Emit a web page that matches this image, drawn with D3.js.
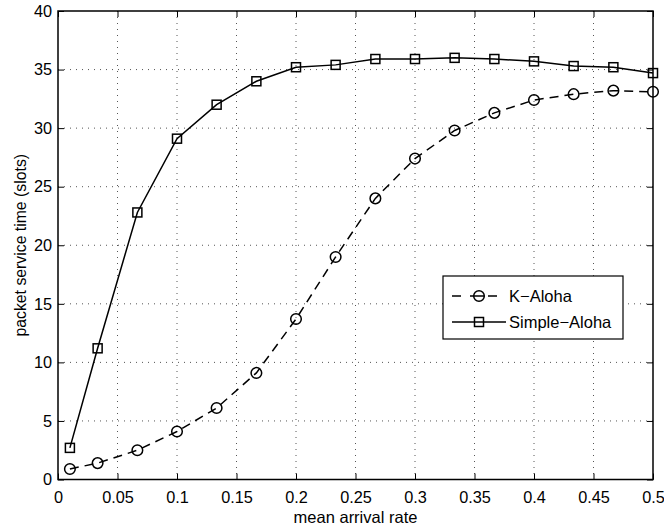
<!DOCTYPE html>
<html>
<head>
<meta charset="utf-8">
<script src="https://cdn.jsdelivr.net/npm/d3@7"></script>
<style>
  body { margin: 0; background: #fff; }
  text { font-family: "Liberation Sans", Arial, sans-serif; fill: #000; }
</style>
</head>
<body>
<div id="viz"></div>
<script>
// data
var arrivalRate = [0.01, 0.0333, 0.0667, 0.1, 0.1333, 0.1667, 0.2, 0.2333,
                   0.2667, 0.3, 0.3333, 0.3667, 0.4, 0.4333, 0.4667, 0.5];
var kAloha      = [0.9, 1.4, 2.5, 4.1, 6.1, 9.1, 13.7, 19.0,
                   24.0, 27.4, 29.8, 31.3, 32.4, 32.9, 33.2, 33.1];
var simpleAloha = [2.7, 11.2, 22.8, 29.1, 32.0, 34.0, 35.2, 35.4,
                   35.9, 35.9, 36.0, 35.9, 35.7, 35.3, 35.2, 34.7];
var xTicks = [0, 0.05, 0.1, 0.15, 0.2, 0.25, 0.3, 0.35, 0.4, 0.45, 0.5];
var yTicks = [0, 5, 10, 15, 20, 25, 30, 35, 40];
var seriesNames = ["K\u2212Aloha", "Simple\u2212Aloha"];

// set the dimensions and margins of the graph
var margin = {top: 11, right: 11, bottom: 50, left: 58},
    width = 664 - margin.left - margin.right,
    height = 530 - margin.top - margin.bottom - 0.5;

var svg = d3.select("#viz")
  .append("svg")
  .attr("width", 664)
  .attr("height", 530)
  .append("g")
  .attr("transform", "translate(" + margin.left + "," + margin.top + ")");

var xScale = d3.scaleLinear().domain([0, 0.5]).range([0, width]),
    yScale = d3.scaleLinear().domain([0, 40]).range([height, 0]);

// grid
svg.append("g").selectAll("line")
  .data(xTicks.slice(1, -1))
  .enter().append("line")
  .attr("x1", d => xScale(d)).attr("x2", d => xScale(d))
  .attr("y1", 0).attr("y2", height)
  .attr("stroke", "#555").attr("stroke-width", 1)
  .attr("stroke-dasharray", "1,5");
svg.append("g").selectAll("line")
  .data(yTicks.slice(1, -1))
  .enter().append("line")
  .attr("y1", d => yScale(d)).attr("y2", d => yScale(d))
  .attr("x1", 0).attr("x2", width)
  .attr("stroke", "#555").attr("stroke-width", 1)
  .attr("stroke-dasharray", "1,5");

// axes with inward ticks
var fmt = d => d === 0 ? "0" : String(d);
svg.append("g")
  .attr("transform", "translate(0," + height + ")")
  .call(d3.axisBottom(xScale).tickValues(xTicks).tickFormat(fmt).tickSizeInner(-6).tickSizeOuter(0).tickPadding(12));
svg.append("g")
  .call(d3.axisTop(xScale).tickValues(xTicks).tickFormat("").tickSizeInner(-6).tickSizeOuter(0));
svg.append("g")
  .call(d3.axisLeft(yScale).tickValues(yTicks).tickFormat(fmt).tickSizeInner(-6).tickSizeOuter(0).tickPadding(6));
svg.append("g")
  .attr("transform", "translate(" + width + ",0)")
  .call(d3.axisRight(yScale).tickValues(yTicks).tickFormat("").tickSizeInner(-6).tickSizeOuter(0));

svg.selectAll(".domain").style("display", "none");
svg.selectAll(".tick line").attr("stroke", "#000");
svg.selectAll(".tick text")
  .style("font-family", "'Liberation Sans', Arial, sans-serif")
  .style("font-size", "16.3px");

// plot box
svg.append("rect")
  .attr("width", width).attr("height", height)
  .attr("fill", "none").attr("stroke", "#000").attr("stroke-width", 1.5);

// lines
var kData = arrivalRate.map((x, i) => ({x: x, y: kAloha[i]}));
var sData = arrivalRate.map((x, i) => ({x: x, y: simpleAloha[i]}));
var line = d3.line().x(d => xScale(d.x)).y(d => yScale(d.y));

svg.append("path").datum(kData)
  .attr("fill", "none").attr("stroke", "#000").attr("stroke-width", 1.5)
  .attr("stroke-dasharray", "9,6")
  .attr("d", line);
svg.append("path").datum(sData)
  .attr("fill", "none").attr("stroke", "#000").attr("stroke-width", 1.5)
  .attr("d", line);

// markers
svg.append("g").selectAll("circle")
  .data(kData).enter().append("circle")
  .attr("cx", d => xScale(d.x)).attr("cy", d => yScale(d.y))
  .attr("r", 5.3)
  .attr("fill", "none").attr("stroke", "#000").attr("stroke-width", 1.5);
svg.append("g").selectAll("rect")
  .data(sData).enter().append("rect")
  .attr("x", d => xScale(d.x) - 4.5).attr("y", d => yScale(d.y) - 4.5)
  .attr("width", 9).attr("height", 9)
  .attr("fill", "none").attr("stroke", "#000").attr("stroke-width", 1.5);

// axis labels
svg.append("text")
  .attr("x", width / 2).attr("y", height + 43)
  .attr("text-anchor", "middle")
  .style("font-size", "16.5px")
  .text("mean arrival rate");
svg.append("text")
  .attr("transform", "translate(" + (-32) + "," + (height / 2) + ") rotate(-90)")
  .attr("text-anchor", "middle")
  .style("font-size", "15.8px")
  .text("packet service time (slots)");

// legend
var lx = 443 - margin.left, ly = 276 - margin.top;
var legend = svg.append("g").attr("transform", "translate(" + lx + "," + ly + ")");
legend.append("rect")
  .attr("width", 180).attr("height", 63)
  .attr("fill", "#fff").attr("stroke", "#000").attr("stroke-width", 1.2);

var rows = [{y: 20, dash: "9,9"}, {y: 46, dash: null}];
rows.forEach((r, i) => {
  legend.append("line")
    .attr("x1", 9).attr("x2", 63).attr("y1", r.y).attr("y2", r.y)
    .attr("stroke", "#000").attr("stroke-width", 1.5)
    .attr("stroke-dasharray", r.dash);
  if (i === 0) {
    legend.append("circle").attr("cx", 36).attr("cy", r.y).attr("r", 5.3)
      .attr("fill", "#fff").attr("stroke", "#000").attr("stroke-width", 1.5);
    legend.append("line").attr("x1", 31).attr("x2", 41).attr("y1", r.y).attr("y2", r.y)
      .attr("stroke", "#000").attr("stroke-width", 1.5);
  } else {
    legend.append("rect").attr("x", 31.5).attr("y", r.y - 4.5).attr("width", 9).attr("height", 9)
      .attr("fill", "#fff").attr("stroke", "#000").attr("stroke-width", 1.5);
    legend.append("line").attr("x1", 31.5).attr("x2", 40.5).attr("y1", r.y).attr("y2", r.y)
      .attr("stroke", "#000").attr("stroke-width", 1.5);
  }
  legend.append("text")
    .attr("x", 66).attr("y", r.y + 6)
    .style("font-size", "16.5px")
    .text(seriesNames[i]);
});
</script>
</body>
</html>
